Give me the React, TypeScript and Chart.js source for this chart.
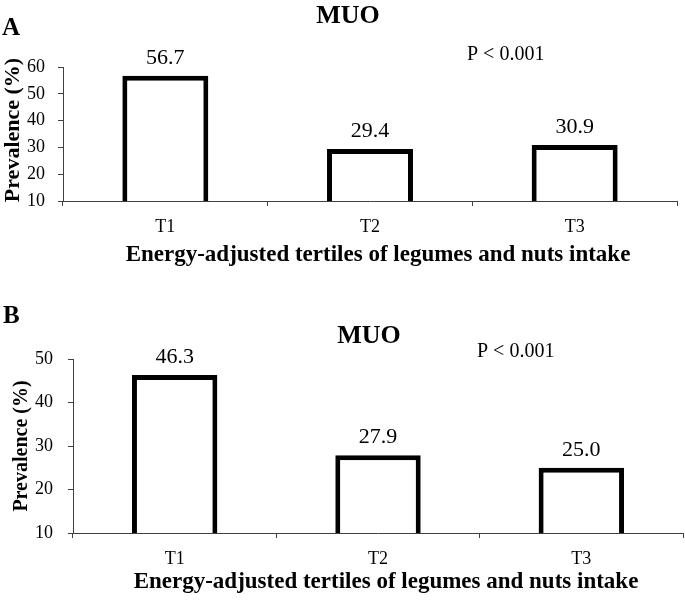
import React, { useEffect, useRef } from 'react';
import { Chart, registerables } from 'chart.js';

Chart.register(...registerables);

// ---------- data ----------
const categories = ['T1', 'T2', 'T3'];
const prevalenceA = [56.7, 29.4, 30.9];
const prevalenceB = [46.3, 27.9, 25.0];
const yRangeA = [10, 60];
const yRangeB = [10, 50];
const yStep = 10;
const panelTitle = 'MUO';
const pValueText = 'P < 0.001';
const yAxisTitle = 'Prevalence (%)';
const xAxisTitle = 'Energy-adjusted tertiles of legumes and nuts intake';

const SERIF = '"Liberation Serif", "Times New Roman", Times, serif';
const AXIS = '#404040';

type PanelSpec = {
  letter: string;
  values: number[];
  yRange: number[];
  top: number;
  height: number;
  area: { left: number; right: number; top: number; bottom: number };
  xAxisHeight: number;
  yTickPad: number;
  ann: {
    letterX: number; letterY: number;
    titleX: number; titleY: number;
    pX: number; pY: number;
    yTitleX: number; yTitleY: number; yTitleSize: number;
    xTitleX: number; xTitleY: number; xTitleSize: number;
  };
};

const panels: PanelSpec[] = [
  {
    letter: 'A',
    values: prevalenceA,
    yRange: yRangeA,
    top: 0,
    height: 290,
    area: { left: 63, right: 677, top: 67, bottom: 201 },
    xAxisHeight: 60,
    yTickPad: 13,
    ann: {
      letterX: 2, letterY: 35,
      titleX: 348, titleY: 23,
      pX: 467, pY: 60,
      yTitleX: 13, yTitleY: 130, yTitleSize: 22,
      xTitleX: 378, xTitleY: 261, xTitleSize: 23,
    },
  },
  {
    letter: 'B',
    values: prevalenceB,
    yRange: yRangeB,
    top: 290,
    height: 310,
    area: { left: 73, right: 683, top: 69, bottom: 243 },
    xAxisHeight: 60,
    yTickPad: 15,
    ann: {
      letterX: 3, letterY: 33,
      titleX: 369, titleY: 53,
      pX: 477, pY: 67,
      yTitleX: 22, yTitleY: 156, yTitleSize: 20,
      xTitleX: 386, xTitleY: 298, xTitleSize: 23,
    },
  },
];

const annotPlugin = {
  id: 'annot',
  afterDraw(chart: any, _args: any, opts: any) {
    const ctx = chart.ctx as CanvasRenderingContext2D;
    ctx.save();
    ctx.fillStyle = '#000';
    ctx.textBaseline = 'alphabetic';

    ctx.font = `bold 25px ${SERIF}`;
    ctx.textAlign = 'left';
    ctx.fillText(opts.letter, opts.letterX, opts.letterY);

    ctx.font = `bold 26px ${SERIF}`;
    ctx.textAlign = 'center';
    ctx.fillText(panelTitle, opts.titleX, opts.titleY);

    ctx.font = `20px ${SERIF}`;
    ctx.textAlign = 'left';
    ctx.fillText(pValueText, opts.pX, opts.pY);

    ctx.font = `22px ${SERIF}`;
    ctx.textAlign = 'center';
    const meta = chart.getDatasetMeta(0);
    const data = chart.data.datasets[0].data as number[];
    meta.data.forEach((el: any, i: number) => {
      ctx.fillText(Number(data[i]).toFixed(1), el.x, el.y - 12);
    });

    ctx.font = `bold ${opts.xTitleSize}px ${SERIF}`;
    ctx.textAlign = 'center';
    ctx.fillText(xAxisTitle, opts.xTitleX, opts.xTitleY);

    ctx.translate(opts.yTitleX, opts.yTitleY);
    ctx.rotate(-Math.PI / 2);
    ctx.textBaseline = 'middle';
    ctx.font = `bold ${opts.yTitleSize}px ${SERIF}`;
    ctx.fillText(yAxisTitle, 0, 0);
    ctx.restore();
  },
};

function BarPanel({ spec }: { spec: PanelSpec }) {
  const ref = useRef<HTMLCanvasElement | null>(null);
  useEffect(() => {
    if (!ref.current) return;
    const W = 685;
    const { area } = spec;
    const chart = new Chart(ref.current, {
      type: 'bar',
      data: {
        labels: categories,
        datasets: [
          {
            data: spec.values,
            backgroundColor: '#ffffff',
            borderColor: '#000000',
            borderWidth: 5,
            borderSkipped: false,
            barPercentage: 0.42,
            categoryPercentage: 1,
          },
        ],
      },
      options: {
        responsive: false,
        animation: false,
        events: [],
        layout: {
          padding: {
            left: 0,
            right: W - area.right,
            top: area.top,
            bottom: spec.height - area.bottom - spec.xAxisHeight,
          },
        },
        plugins: {
          legend: { display: false },
          tooltip: { enabled: false },
          title: { display: false },
          annot: { letter: spec.letter, ...spec.ann },
        } as any,
        scales: {
          x: {
            type: 'category',
            offset: true,
            afterFit: (s: any) => { s.height = spec.xAxisHeight; },
            grid: {
              display: true,
              offset: true,
              drawOnChartArea: false,
              drawTicks: true,
              tickLength: 5,
              color: AXIS,
              lineWidth: 1,
            },
            border: { display: true, color: AXIS, width: 1 },
            ticks: {
              color: '#000',
              font: { family: SERIF, size: 18 },
              padding: 10,
              maxRotation: 0,
            },
          },
          y: {
            type: 'linear',
            min: spec.yRange[0],
            max: spec.yRange[1],
            afterFit: (s: any) => { s.width = area.left; },
            grid: {
              display: true,
              drawOnChartArea: false,
              drawTicks: true,
              tickLength: 5,
              color: AXIS,
              lineWidth: 1,
            },
            border: { display: true, color: AXIS, width: 1 },
            ticks: {
              stepSize: yStep,
              color: '#000',
              font: { family: SERIF, size: 18 },
              padding: spec.yTickPad,
            },
          },
        },
      },
      plugins: [annotPlugin as any],
    });
    return () => chart.destroy();
  }, [spec]);

  return (
    <canvas
      ref={ref}
      width={685}
      height={spec.height}
      style={{ position: 'absolute', left: 0, top: spec.top, width: 685, height: spec.height, display: 'block' }}
    />
  );
}

export default function App() {
  return (
    <div style={{ position: 'absolute', left: 0, top: 0, width: 685, height: 600, background: '#fff' }}>
      {panels.map((p) => (
        <BarPanel key={p.letter} spec={p} />
      ))}
    </div>
  );
}
